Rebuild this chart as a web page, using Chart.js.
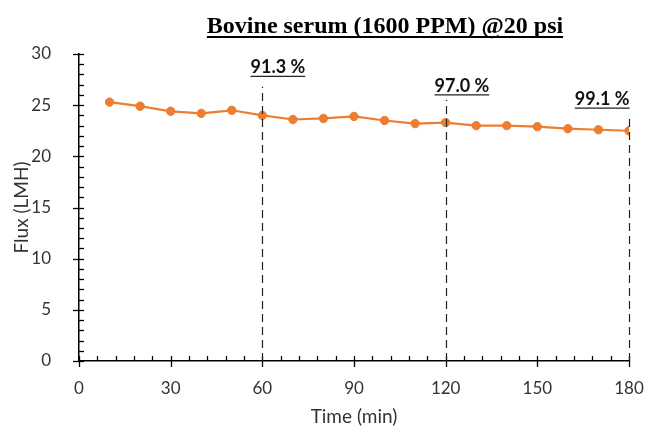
<!DOCTYPE html>
<html>
<head>
<meta charset="utf-8">
<script src="https://cdn.jsdelivr.net/npm/chart.js@4"></script>
<style>
  html, body { margin: 0; padding: 0; background: #fff; }
  canvas { display: block; }
</style>
</head>
<body>
<canvas id="fluxChart" width="646" height="428"></canvas>
<script>
// data
const times = [10, 20, 30, 40, 50, 60, 70, 80, 90, 100, 110, 120, 130, 140, 150, 160, 170, 180];
const flux = [25.3, 24.9, 24.4, 24.2, 24.5, 24.0, 23.6, 23.7, 23.9, 23.5, 23.2, 23.3, 23.0, 23.0, 22.9, 22.7, 22.6, 22.5];
const xTicks = [0, 30, 60, 90, 120, 150, 180];
const yTicks = [0, 5, 10, 15, 20, 25, 30];
// rejection markers: time, top of dashed line and label baseline (in flux units)
const markerTimes = [60, 120, 180];
const markerTops = [26.8, 25.5, 24.1];
const markerLabelLevels = [28.1, 26.3, 25.0];
const markerLabels = ['91.3 %', '97.0 %', '99.1 %'];
const chartTitle = 'Bovine serum (1600 PPM) @20 psi';

const orange = '#ED7D31';

// minor/major tick marks, dashed markers, title
const decorPlugin = {
    id: 'decor',
    afterDraw(chart) {
        const ctx = chart.ctx;
        const x = chart.scales.x;
        const y = chart.scales.y;
        const x0 = x.getPixelForValue(0);
        const y0 = y.getPixelForValue(0);
        ctx.save();
        ctx.strokeStyle = '#000';
        ctx.lineWidth = 1.3;
        // x ticks
        for (let t = 0; t <= 180; t += 6) {
            const px = Math.round(x.getPixelForValue(t)) + 0.5;
            ctx.beginPath();
            if (t % 30 === 0) {
                ctx.moveTo(px, y0 - 5);
                ctx.lineTo(px, y0 + 6);
            } else {
                ctx.moveTo(px, y0 - 5);
                ctx.lineTo(px, y0);
            }
            ctx.stroke();
        }
        // y ticks
        for (let v = 0; v <= 30; v += 1) {
            const py = Math.round(y.getPixelForValue(v)) + 0.5;
            ctx.beginPath();
            if (v % 5 === 0) {
                ctx.moveTo(x0 - 6, py);
                ctx.lineTo(x0 + 5, py);
            } else {
                ctx.moveTo(x0, py);
                ctx.lineTo(x0 + 5, py);
            }
            ctx.stroke();
        }
        // dashed marker lines and labels
        ctx.lineWidth = 1.2;
        ctx.strokeStyle = '#222';
        ctx.font = 'bold 18px Lato, "Open Sans", sans-serif';
        ctx.fillStyle = '#111';
        ctx.textBaseline = 'alphabetic';
        markerTimes.forEach((t, i) => {
            const px = Math.round(x.getPixelForValue(t)) + 0.5;
            const top = y.getPixelForValue(markerTops[i]);
            ctx.setLineDash([8, 5]);
            ctx.beginPath();
            ctx.moveTo(px, y0);
            ctx.lineTo(px, top);
            ctx.stroke();
            ctx.setLineDash([]);
            const w = ctx.measureText(markerLabels[i]).width;
            const left = i === markerTimes.length - 1 ? px - w : px - 12;
            const base = y.getPixelForValue(markerLabelLevels[i]);
            ctx.fillText(markerLabels[i], left, base);
            ctx.beginPath();
            ctx.moveTo(left, base + 3);
            ctx.lineTo(left + w, base + 3);
            ctx.stroke();
        });
        // title
        ctx.setLineDash([]);
        ctx.font = 'bold 24px "Liberation Serif", "Times New Roman", serif';
        ctx.fillStyle = '#000';
        ctx.textAlign = 'center';
        const tw = ctx.measureText(chartTitle).width;
        ctx.fillText(chartTitle, 385, 33);
        ctx.lineWidth = 2;
        ctx.strokeStyle = '#000';
        ctx.beginPath();
        ctx.moveTo(385 - tw / 2, 37);
        ctx.lineTo(385 + tw / 2, 37);
        ctx.stroke();
        ctx.restore();
    }
};

const tickFont = { family: 'Lato, "Open Sans", sans-serif', size: 17 };

const ctx = document.getElementById('fluxChart').getContext('2d');
new Chart(ctx, {
    type: 'line',
    data: {
        datasets: [{
            label: 'Flux',
            data: times.map((t, i) => ({ x: t, y: flux[i] })),
            borderColor: orange,
            backgroundColor: orange,
            borderWidth: 2.2,
            pointRadius: 4.2,
            pointBorderWidth: 1,
            pointBackgroundColor: orange,
            pointBorderColor: orange,
            tension: 0
        }]
    },
    options: {
        responsive: false,
        animation: false,
        layout: {
            padding: { top: 54, right: 0, left: 0, bottom: 0 }
        },
        plugins: {
            legend: { display: false },
            tooltip: { enabled: false }
        },
        scales: {
            x: {
                type: 'linear',
                min: 0,
                max: 180,
                afterBuildTicks: function (scale) {
                    scale.ticks = xTicks.map(v => ({ value: v }));
                },
                afterFit: function (scale) {
                    scale.height = 67;
                    scale.paddingRight = 17;
                },
                grid: { display: false },
                border: { display: true, color: '#000', width: 1.5 },
                ticks: {
                    padding: 9,
                    color: '#333',
                    font: tickFont
                },
                title: {
                    display: true,
                    text: 'Time (min)',
                    color: '#333',
                    padding: { top: 4, bottom: 0 },
                    font: { family: 'Lato, "Open Sans", sans-serif', size: 19 }
                }
            },
            y: {
                min: 0,
                max: 30,
                afterBuildTicks: function (scale) {
                    scale.ticks = yTicks.map(v => ({ value: v }));
                },
                afterFit: function (scale) {
                    scale.width = 79;
                },
                grid: { display: false },
                border: { display: true, color: '#000', width: 1.5 },
                ticks: {
                    padding: 20,
                    color: '#333',
                    font: tickFont
                },
                title: {
                    display: true,
                    text: 'Flux (LMH)',
                    color: '#333',
                    padding: { top: 10, bottom: 0 },
                    font: { family: 'Lato, "Open Sans", sans-serif', size: 19 }
                }
            }
        }
    },
    plugins: [decorPlugin]
});
</script>
</body>
</html>
